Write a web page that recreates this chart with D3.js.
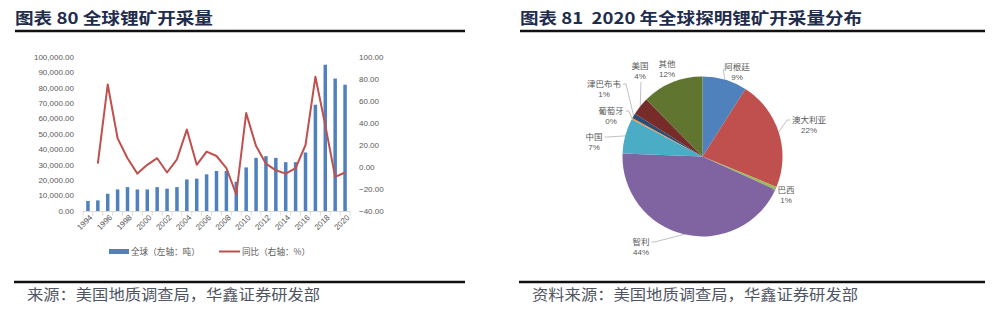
<!DOCTYPE html>
<html>
<head>
<meta charset="utf-8">
<script src="https://cdn.jsdelivr.net/npm/d3@7"></script>
<style>
  body { margin: 0; background: #fff; }
  svg { display: block; }
  text { font-family: "Liberation Sans", Arial, sans-serif; }
  .cjk { font-family: "Noto Sans CJK SC", sans-serif; }
</style>
</head>
<body>
<svg width="1000" height="315"></svg>
<script>
// data
var years = d3.range(1994, 2021);
var output = [6500, 6900, 11200, 14000, 15500, 14000, 14000, 15500, 14500, 15500,
              20500, 21000, 23800, 26000, 26000, 19000, 28300, 34500, 35600, 34500,
              31700, 31700, 38000, 69000, 95000, 86000, 82000];
var yoy = [null, 3, 75, 26, 8, -6, 2, 8, -5, 7,
           34, 2, 14, 10, -1, -25, 49, 19, 3, -3,
           -6, -1, 20, 82, 38, -9, -5];
var leftTicks = d3.range(0, 100001, 10000);
var rightTicks = d3.range(-40, 101, 20);
var xLabels = d3.range(1994, 2021, 2);

var countries = ["阿根廷", "澳大利亚", "巴西", "智利", "中国", "葡萄牙", "津巴布韦", "美国", "其他"];
var shares = [9.0, 22.2, 0.6, 43.8, 7.1, 0.3, 1.0, 3.6, 12.4];
var pieColors = ["#4f81bd", "#c0504d", "#9bbb59", "#8064a2", "#4bacc6", "#f79646", "#2c4d75", "#772c2a", "#5f7530"];
// label anchor (centre of the name line) for each slice
var labelPos = [[737, 67], [809, 120], [786, 190], [641, 242], [594, 137], [611, 111], [604, 84], [640, 66], [667, 64]];

var svg = d3.select("svg");
var titleColor = "#1f2d4d";

// ---- titles, rules, sources
function header(x, w, txt, tl) {
  svg.append("text").attr("class", "cjk")
    .attr("x", x).attr("y", 24)
    .attr("font-size", 16).attr("font-weight", "bold")
    .attr("fill", titleColor)
    .attr("textLength", tl).attr("lengthAdjust", "spacingAndGlyphs")
    .style("white-space", "pre")
    .text(txt);
  svg.append("line").attr("x1", x).attr("x2", x + w).attr("y1", 31).attr("y2", 31)
    .attr("stroke", "#111").attr("stroke-width", 2.5);
}
function footer(x, w, txt, tl) {
  svg.append("line").attr("x1", x).attr("x2", x + w).attr("y1", 282).attr("y2", 282)
    .attr("stroke", "#111").attr("stroke-width", 2.5);
  svg.append("text").attr("class", "cjk")
    .attr("x", x + 13).attr("y", 300)
    .attr("font-size", 15).attr("fill", "#4f5563")
    .attr("textLength", tl).attr("lengthAdjust", "spacingAndGlyphs")
    .text(txt);
}
header(15, 450, "图表 80 全球锂矿开采量", 198);
header(520, 465, "图表 81  2020 年全球探明锂矿开采量分布", 342);
footer(14, 451, "来源：美国地质调查局，华鑫证券研发部", 293);
footer(519, 466, "资料来源：美国地质调查局，华鑫证券研发部", 326);

// ---- left chart: bars + yoy line
var x = d3.scaleBand().domain(years).range([83, 350]);
var yL = d3.scaleLinear().domain([0, 100000]).range([211, 57]);
var yR = d3.scaleLinear().domain([-40, 100]).range([211, 57]);
var cx = d => x(d) + x.bandwidth() / 2;
var axisGray = "#595959";

var chart = svg.append("g");

chart.selectAll(".lt").data(leftTicks).enter().append("text")
  .attr("x", 74).attr("y", d => yL(d)).attr("dy", "0.35em")
  .attr("text-anchor", "end").attr("font-size", 8).attr("fill", axisGray)
  .text(d3.format(",.2f"));

chart.selectAll(".rt").data(rightTicks).enter().append("text")
  .attr("x", 359).attr("y", d => yR(d)).attr("dy", "0.35em")
  .attr("font-size", 8).attr("fill", axisGray)
  .text(d3.format(".2f"));

// category axis
chart.append("line").attr("x1", 83).attr("x2", 350).attr("y1", 211.5).attr("y2", 211.5)
  .attr("stroke", "#d9d9d9");
chart.selectAll(".tk").data(years.concat([2021])).enter().append("line")
  .attr("x1", d => d === 2021 ? 350 : x(d)).attr("x2", d => d === 2021 ? 350 : x(d))
  .attr("y1", 211.5).attr("y2", 215.5).attr("stroke", "#d9d9d9");
chart.selectAll(".xl").data(xLabels).enter().append("text")
  .attr("transform", d => "translate(" + (cx(d) + 3) + ",216) rotate(-45)")
  .attr("text-anchor", "end").attr("dy", "0.35em")
  .attr("font-size", 8).attr("fill", axisGray)
  .text(d => d);

var barW = 3.5;
chart.selectAll(".bar").data(years).enter().append("rect")
  .attr("x", d => cx(d) - barW / 2)
  .attr("width", barW)
  .attr("y", (d, i) => yL(output[i]))
  .attr("height", (d, i) => yL(0) - yL(output[i]))
  .attr("fill", "#4f81bd");

var line = d3.line()
  .defined(d => d[1] != null)
  .x(d => cx(d[0]))
  .y(d => yR(d[1]));
chart.append("path")
  .datum(years.map((d, i) => [d, yoy[i]]))
  .attr("d", line)
  .attr("fill", "none").attr("stroke", "#c0504d").attr("stroke-width", 2)
  .attr("stroke-linejoin", "round");

// legend
chart.append("rect").attr("x", 109).attr("y", 249).attr("width", 20).attr("height", 5).attr("fill", "#4f81bd");
chart.append("text").attr("class", "cjk").attr("x", 131).attr("y", 252).attr("dy", "0.35em")
  .attr("font-size", 8.6).attr("fill", axisGray).text("全球（左轴：吨）");
chart.append("line").attr("x1", 219).attr("x2", 240).attr("y1", 251.5).attr("y2", 251.5)
  .attr("stroke", "#c0504d").attr("stroke-width", 2);
chart.append("text").attr("class", "cjk").attr("x", 242).attr("y", 252).attr("dy", "0.35em")
  .attr("font-size", 8.6).attr("fill", axisGray).text("同比（右轴：%）");

// ---- right chart: pie
var pcx = 702.5, pcy = 156.5, R = 80;
var pie = d3.pie().sort(null).value(d => d)(shares);
var arc = d3.arc().innerRadius(0).outerRadius(R);
var edge = d3.arc().innerRadius(R).outerRadius(R);
var total = d3.sum(shares);

var pg = svg.append("g").attr("transform", "translate(" + pcx + "," + pcy + ")");
pg.selectAll("path").data(pie).enter().append("path")
  .attr("d", arc)
  .attr("fill", (d, i) => pieColors[i]);

// leader lines + labels
pie.forEach(function (d, i) {
  var e = edge.centroid(d);
  var lx = labelPos[i][0], ly = labelPos[i][1];
  var ex = pcx + e[0], ey = pcy + e[1];
  var name = countries[i];
  var half = name.length * 8.5 / 2;
  if (i !== 8) {
    // start point beside the label, on the side facing the pie
    var sx, sy;
    if (i === 0) { sx = lx - half - 1; sy = ly + 2; }
    else if (i === 7) { sx = lx + 1; sy = ly + 16; }
    else if (i === 3) { sx = lx + half + 2; sy = ly; }
    else if (lx < pcx) { sx = lx + half + 2; sy = ly; }
    else { sx = lx - half - 2; sy = ly; }
    svg.append("path")
      .attr("d", "M" + sx + "," + sy + (i === 7 || i === 0 ? "" : "H" + (sx + (lx < pcx ? 3 : -3))) + "L" + ex + "," + ey)
      .attr("fill", "none").attr("stroke", "#a6a6a6").attr("stroke-width", 0.7);
  }
  svg.append("text").attr("class", "cjk")
    .attr("x", lx).attr("y", ly).attr("dy", "0.35em")
    .attr("text-anchor", "middle").attr("font-size", 8.5).attr("fill", axisGray)
    .text(name);
  svg.append("text")
    .attr("x", lx).attr("y", ly + 10).attr("dy", "0.35em")
    .attr("text-anchor", "middle").attr("font-size", 8).attr("fill", axisGray)
    .text(Math.round(shares[i] / total * 100) + "%");
});
</script>
</body>
</html>
